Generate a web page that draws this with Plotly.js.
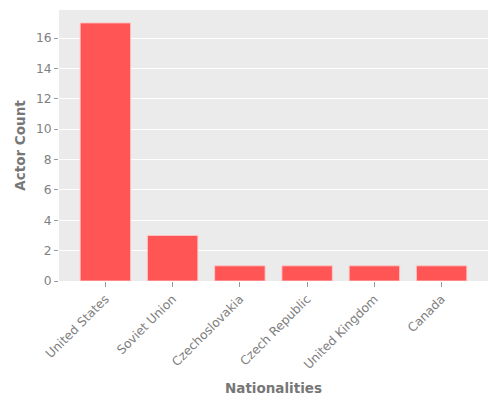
<!DOCTYPE html>
<html><head><meta charset="utf-8">
<script src="https://cdn.plot.ly/plotly-3.0.1.min.js"></script>
<style>html,body{margin:0;padding:0;background:#fff}</style>
</head><body>
<div id="chart" style="width:500px;height:400px"></div>
<script>
var nationalities = ["United States","Soviet Union","Czechoslovakia","Czech Republic","United Kingdom","Canada"];
var actorCounts = [17, 3, 1, 1, 1, 1];
var yTicks = [0,2,4,6,8,10,12,14,16];

var trace = {
  type: 'bar',
  x: nationalities,
  y: actorCounts,
  width: 0.75,
  marker: {color: '#ff5555', line: {color: 'rgba(255,200,200,0.9)', width: 1}},
  hoverinfo: 'x+y'
};
var layout = {
  width: 500, height: 400,
  margin: {l: 59, r: 12, t: 10, b: 119},
  paper_bgcolor: '#ffffff',
  plot_bgcolor: '#ebebeb',
  font: {family: 'DejaVu Sans', color: '#808080', size: 12},
  showlegend: false,
  xaxis: {
    range: [-0.69, 5.69],
    tickangle: -45,
    ticks: 'outside', ticklen: 5, tickcolor: '#999999', tickwidth: 1,
    showgrid: false, zeroline: false, showline: false,
    tickfont: {size: 12.3, color: '#808080'},
    title: {text: 'Nationalities', font: {size: 13.5, color: '#777777', weight: 'bold'}, standoff: 12}
  },
  yaxis: {
    range: [0, 17.85],
    tickvals: yTicks,
    ticks: 'outside', ticklen: 4, tickcolor: '#999999', tickwidth: 1,
    showgrid: true, gridcolor: '#ffffff', gridwidth: 1,
    zeroline: false, showline: false,
    tickfont: {size: 12.3, color: '#808080'},
    title: {text: 'Actor Count', font: {size: 13.5, color: '#777777', weight: 'bold'}, standoff: 7}
  }
};
Plotly.newPlot('chart', [trace], layout, {displayModeBar: false, staticPlot: true});
</script>
</body></html>
